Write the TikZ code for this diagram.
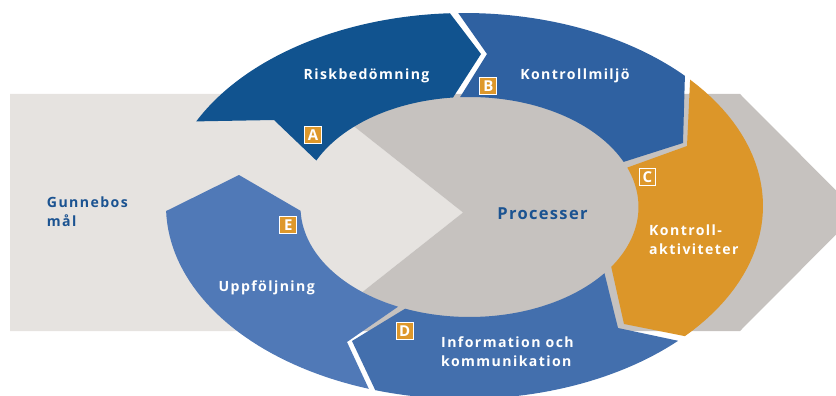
\documentclass[tikz,border=0pt]{standalone}
\usepackage{fontspec}
\setmainfont{Open Sans}
\newfontfamily\lblfont{Open Sans}[LetterSpace=10]
\newfontfamily\procfont{Open Sans}[LetterSpace=8]
\definecolor{cA}{HTML}{11538F}
\definecolor{cB}{HTML}{2F61A1}
\definecolor{cC}{HTML}{DC9629}
\definecolor{cD}{HTML}{436FAD}
\definecolor{cE}{HTML}{5079B7}
\definecolor{bglight}{HTML}{E6E3E0}
\definecolor{bgdark}{HTML}{C6C2BF}
\definecolor{txtblue}{HTML}{1B5391}
\definecolor{tagorange}{HTML}{DE982B}
\tikzset{
  lab/.style={font=\lblfont\bfseries\fontsize{14.1}{18.6}\selectfont, text=white, inner sep=0pt, align=left},
  bluelab/.style={lab, text=txtblue},
  tagbox/.style={fill=tagorange, draw=white, line width=0.9pt, minimum size=16.8pt, inner sep=0pt,
     font=\bfseries\fontsize{15}{15}\selectfont, text=white},
}
\begin{document}
\begin{tikzpicture}[x=1pt,y=-1pt]
\useasboundingbox (0,0) rectangle (836,396);
\clip (0,0) rectangle (836,396);
% background arrow
\fill[bglight] (10,94) -- (313,94) -- (463,212.5) -- (313,331) -- (10,331) -- cycle;
\fill[bgdark] (313,94) -- (740,94) -- (858,212.5) -- (740,331) -- (313,331) -- (463,212.5) -- cycle;
% A
\fill[cA] plot[domain=154:92.8,samples=40] ({464.5+298.5*cos(\x)},{206-193*sin(\x)})
  -- (481,54) -- plot[domain=95.6:155,samples=40] ({469.5+169*cos(\x)},{207-110*sin(\x)})
  -- (274,120) -- cycle;
% B
\fill[cB] plot[domain=91.2:42.4,samples=40] ({464.5+298.5*cos(\x)},{206-193*sin(\x)})
  -- (683,143) -- plot[domain=24.2:93.2,samples=40] ({469.5+169*cos(\x)},{207-110*sin(\x)})
  -- (487,54) -- cycle;
% C
\fill[cC] plot[domain=40.9:-42.4,samples=40] ({464.5+298.5*cos(\x)},{206-193*sin(\x)})
  -- (624,324) -- plot[domain=-33:21,samples=40] ({469.5+169*cos(\x)},{207-110*sin(\x)})
  -- (687,146) -- cycle;
% D
\fill[cD] plot[domain=-44.3:-107.4,samples=40] ({464.5+298.5*cos(\x)},{206-193*sin(\x)})
  -- (352,341) -- plot[domain=-112.4:-37,samples=40] ({469.5+169*cos(\x)},{207-110*sin(\x)})
  -- (618,328) -- cycle;
% E
\fill[cE] plot[domain=-108.7:-178.5,samples=40] ({464.5+298.5*cos(\x)},{206-193*sin(\x)})
  -- (239,175) -- plot[domain=-178:-115,samples=40] ({469.5+169*cos(\x)},{207-110*sin(\x)})
  -- (347,342) -- cycle;
% texts
\node[lab, anchor=base] (risk) at (366.5,80) {Riskbedömning};
\node[lab, anchor=base] (miljo) at (575,80) {Kontrollmiljö};
\node[lab, anchor=base west] (akt) at (649,254.3) {Kontroll-\\aktiviteter};
\node[lab, anchor=base west] (info) at (441,366) {Information och\\kommunikation};
\node[lab, anchor=base] (uppf) at (266.7,291) {Uppföljning};
\node[bluelab, anchor=base west] (mal) at (46.7,226) {Gunnebos\\mål};
\node[bluelab, anchor=base, font=\procfont\bfseries\fontsize{16.5}{20}\selectfont] (proc) at (542.5,219.3) {Processer};
% tags
\node[tagbox] (tA) at (313,134.7) {A};
\node[tagbox] (tB) at (488.3,86) {B};
\node[tagbox] (tC) at (647.5,176.7) {C};
\node[tagbox] (tD) at (404.7,331) {D};
\node[tagbox] (tE) at (288.3,224.7) {E};
\end{tikzpicture}
\end{document}
